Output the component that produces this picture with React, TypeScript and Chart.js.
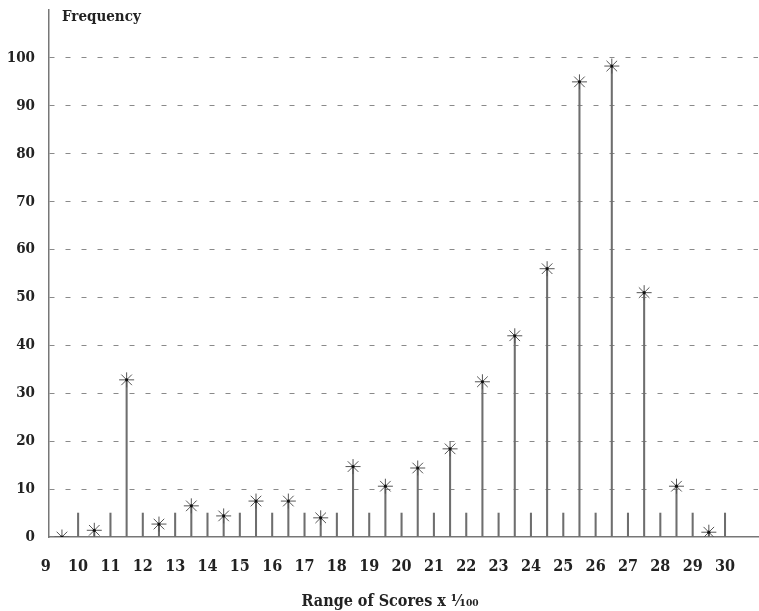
import React, { useEffect, useRef } from "react";
import { Chart, registerables } from "chart.js";

Chart.register(...registerables);

// Bin centres (score range x 1/100) and observed frequencies
const binCenters = [9.5, 10.5, 11.5, 12.5, 13.5, 14.5, 15.5, 16.5, 17.5, 18.5, 19.5, 20.5, 21.5, 22.5, 23.5, 24.5, 25.5, 26.5, 27.5, 28.5, 29.5];
const frequencies = [0, 1.4, 32.8, 2.7, 6.5, 4.4, 7.5, 7.5, 4.0, 14.7, 10.6, 14.4, 18.4, 32.4, 42, 56, 95, 98.3, 51, 10.6, 1.0];

// Short class-boundary marks drawn at the integer scores
const boundaryPositions = [10, 11, 12, 13, 14, 15, 16, 17, 18, 19, 20, 21, 22, 23, 24, 25, 26, 27, 28, 29, 30];
const boundaryHeights = [5, 5, 5, 5, 5, 5, 5, 5, 5, 5, 5, 5, 5, 5, 5, 5, 5, 5, 5, 5, 5];

// Axis tick labels
const xTickLabels = ["9", "10", "11", "12", "13", "14", "15", "16", "17", "18", "19", "20", "21", "22", "23", "24", "25", "26", "27", "28", "29", "30"];
const yTickLabels = ["0", "10", "20", "30", "40", "50", "60", "70", "80", "90", "100"];

const yTitle = "Frequency";
const xTitle = "Range of Scores x \u00B9\u2044\u2081\u2080\u2080";

const FONT = "'DejaVu Serif Condensed', 'DejaVu Serif', serif";

export default function App() {
  const ref = useRef<HTMLCanvasElement | null>(null);

  useEffect(() => {
    document.body.style.margin = "0";
    const canvas = ref.current;
    if (!canvas) return;

    const stemData = binCenters.map((x, i) => ({ x, y: frequencies[i] }));
    const boundaryData = boundaryPositions.map((x, i) => ({ x, y: boundaryHeights[i] }));

    const textPlugin = {
      id: "textPlugin",
      afterDraw(chart: any) {
        const ctx = chart.ctx;
        ctx.save();
        ctx.fillStyle = "#222";
        ctx.font = `bold 15px ${FONT}`;
        ctx.textAlign = "left";
        ctx.textBaseline = "middle";
        ctx.fillText(yTitle, 62, 17);
        ctx.font = `bold 16px ${FONT}`;
        ctx.textAlign = "center";
        ctx.fillText(xTitle, 390, 602);
        ctx.restore();
      },
    };

    const chart = new Chart(canvas, {
      type: "bar",
      data: {
        datasets: [
          {
            type: "bar",
            data: stemData as any,
            backgroundColor: "#6e6e6e",
            barThickness: 1.4,
            grouped: false,
            order: 3,
          } as any,
          {
            type: "bar",
            data: boundaryData as any,
            backgroundColor: "#6e6e6e",
            barThickness: 1.4,
            grouped: false,
            order: 4,
          } as any,
          {
            type: "scatter",
            data: stemData as any,
            pointStyle: "star",
            pointRadius: 7.5,
            borderColor: "#555",
            borderWidth: 1,
            backgroundColor: "#555",
            order: 2,
          } as any,
          {
            type: "scatter",
            data: stemData as any,
            pointStyle: "circle",
            pointRadius: 1.6,
            borderWidth: 0,
            backgroundColor: "#111",
            order: 1,
          } as any,
        ],
      },
      options: {
        animation: false,
        responsive: false,
        layout: { autoPadding: false, padding: { top: 10, right: 1, left: 0, bottom: 0 } },
        plugins: {
          legend: { display: false },
          tooltip: { enabled: false },
          title: { display: false },
        },
        scales: {
          x: {
            type: "linear",
            offset: false,
            min: 9.1,
            max: 31.02,
            afterBuildTicks(scale: any) {
              scale.ticks = xTickLabels.map((l) => ({ value: Number(l) }));
            },
            afterFit(scale: any) {
              scale.height = 74;
              scale.paddingLeft = 0;
              scale.paddingRight = 0;
            },
            grid: { display: false, drawTicks: false, offset: false },
            border: { display: true, color: "#777", width: 1.5 },
            ticks: {
              autoSkip: false,
              maxRotation: 0,
              padding: 20,
              color: "#222",
              font: { family: FONT, size: 16, weight: "bold" },
              callback: (v: any) => {
                const i = xTickLabels.indexOf(String(v));
                return i >= 0 ? xTickLabels[i] : "";
              },
            },
          },
          y: {
            type: "linear",
            min: 0,
            max: 110,
            afterFit(scale: any) {
              scale.width = 49;
              scale.paddingTop = 0;
              scale.paddingBottom = 0;
            },
            grid: {
              drawTicks: false,
              color: (c: any) => (c.tick && (c.tick.value === 0 || c.tick.value === 110) ? "rgba(0,0,0,0)" : "#8a8a8a"),
              lineWidth: 1,
            },
            border: { display: true, color: "#777", width: 1.5, dash: [5, 11] },
            ticks: {
              stepSize: 10,
              padding: 14,
              color: "#222",
              font: { family: FONT, size: 15, weight: "bold" },
              callback: (v: any) => {
                const i = yTickLabels.indexOf(String(v));
                return i >= 0 ? yTickLabels[i] : "";
              },
            },
          },
        },
      } as any,
      plugins: [textPlugin],
    });

    return () => chart.destroy();
  }, []);

  return (
    <div style={{ width: 759, height: 611, background: "#fff" }}>
      <canvas ref={ref} width={759} height={611} />
    </div>
  );
}
